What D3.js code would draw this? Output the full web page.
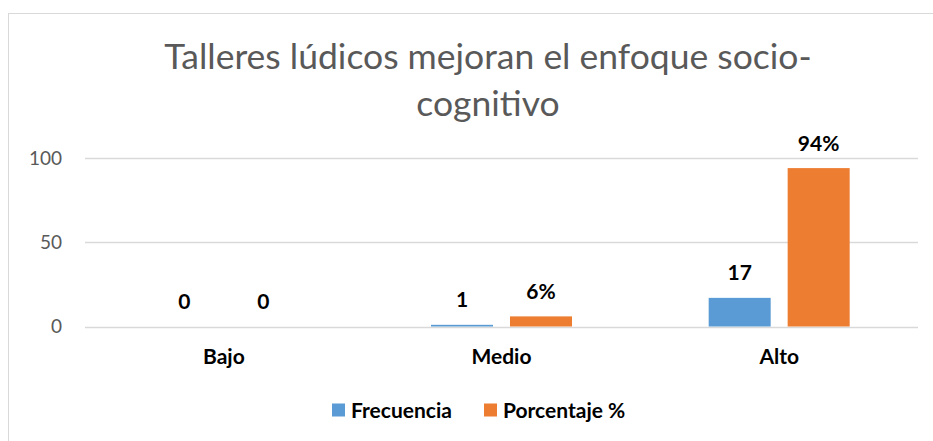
<!DOCTYPE html>
<html>
<head>
<meta charset="utf-8">
<script src="https://cdn.jsdelivr.net/npm/d3@7"></script>
<style>
  body { margin: 0; background: #fff; overflow: hidden; }
  text { font-family: Lato, "Open Sans", sans-serif; }
</style>
</head>
<body>
<div id="chart"></div>
<script>
// data
var categories = ["Bajo", "Medio", "Alto"];
var series = ["Frecuencia", "Porcentaje %"];
var frecuencia = [0, 1, 17];
var porcentaje = [0, 6, 94];
var frecuenciaLabels = ["0", "1", "17"];
var porcentajeLabels = ["0", "6%", "94%"];
var yTicks = [0, 50, 100];
var titleLines = ["Talleres lúdicos mejoran el enfoque socio-", "cognitivo"];

var colors = { "Frecuencia": "#5b9bd5", "Porcentaje %": "#ed7d31" };

var width = 933, height = 441;

var svg = d3.select("#chart").append("svg")
  .attr("width", width)
  .attr("height", height)
  .style("display", "block");

// chart frame (runs past the right and bottom edges of the picture)
svg.append("rect")
  .attr("x", 8.5)
  .attr("y", 13.5)
  .attr("width", 940)
  .attr("height", 440)
  .attr("fill", "#fff")
  .attr("stroke", "#d9d9d9");

// title
svg.append("text")
  .attr("text-anchor", "middle")
  .style("font-size", "35.5px")
  .style("fill", "#595959")
  .selectAll("tspan")
  .data(titleLines)
  .enter().append("tspan")
  .attr("x", 488)
  .attr("y", function(d, i) { return 69 + i * 47; })
  .text(function(d) { return d; });

var x0 = d3.scaleBand()
  .domain(categories)
  .range([85, 918]);

var x1 = d3.scaleBand()
  .domain(series)
  .range([x0.bandwidth() / 2 - 70.5, x0.bandwidth() / 2 + 70.5])
  .paddingInner(0.215);

var y = d3.scaleLinear()
  .domain([0, 100])
  .range([326.5, 158]);

// gridlines
svg.append("g").selectAll("line")
  .data(yTicks)
  .enter().append("line")
  .attr("x1", 85)
  .attr("x2", 918)
  .attr("y1", function(d) { return Math.round(y(d)) + 0.5; })
  .attr("y2", function(d) { return Math.round(y(d)) + 0.5; })
  .attr("stroke", "#d9d9d9")
  .attr("stroke-width", 1.3);

// y axis labels
var yAxis = svg.append("g")
  .attr("transform", "translate(85,0)")
  .call(d3.axisLeft(y).tickValues(yTicks).tickSize(0).tickPadding(23));
yAxis.select(".domain").remove();
yAxis.selectAll("text")
  .style("font-size", "19px")
  .style("fill", "#595959")
  .style("font-family", "Lato, sans-serif");

// x axis labels
var xAxis = svg.append("g")
  .attr("transform", "translate(0,326.5)")
  .call(d3.axisBottom(x0).tickSize(0).tickPadding(23));
xAxis.select(".domain").remove();
xAxis.selectAll("text")
  .style("font-size", "21px")
  .style("font-weight", "bold")
  .style("fill", "#000")
  .style("font-family", "Lato, sans-serif");

var rows = categories.map(function(c, i) {
  return [
    { cat: c, key: "Frecuencia", value: frecuencia[i], label: frecuenciaLabels[i] },
    { cat: c, key: "Porcentaje %", value: porcentaje[i], label: porcentajeLabels[i] }
  ];
});

var group = svg.append("g").selectAll("g")
  .data(rows)
  .enter().append("g")
  .attr("transform", function(d) { return "translate(" + x0(d[0].cat) + ",0)"; });

group.selectAll("rect")
  .data(function(d) { return d; })
  .enter().append("rect")
  .attr("x", function(d) { return x1(d.key); })
  .attr("width", x1.bandwidth())
  .attr("y", function(d) { return y(d.value); })
  .attr("height", function(d) { return y(0) - y(d.value); })
  .attr("fill", function(d) { return colors[d.key]; });

group.selectAll("text")
  .data(function(d) { return d; })
  .enter().append("text")
  .attr("x", function(d) { return x1(d.key) + x1.bandwidth() / 2; })
  .attr("y", function(d) { return y(d.value) - 17.5; })
  .attr("text-anchor", "middle")
  .style("font-size", "21px")
  .style("font-weight", "bold")
  .text(function(d) { return d.label; });

// legend
var legendX = [332, 484];
var legend = svg.append("g").selectAll("g")
  .data(series)
  .enter().append("g")
  .attr("transform", function(d, i) { return "translate(" + legendX[i] + ",403.5)"; });

legend.append("rect")
  .attr("width", 13)
  .attr("height", 13)
  .attr("fill", function(d) { return colors[d]; });

legend.append("text")
  .attr("x", 19)
  .attr("y", 14)
  .style("font-size", "21px")
  .style("font-weight", "bold")
  .text(function(d) { return d; });
</script>
</body>
</html>
